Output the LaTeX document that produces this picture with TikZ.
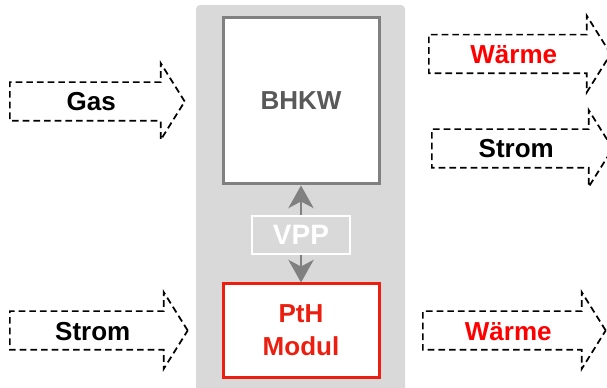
\documentclass[tikz,border=0pt]{standalone}
\usepackage{fontspec}
\setmainfont{Liberation Sans}
\usetikzlibrary{shapes.arrows,arrows.meta}

\definecolor{bggray}{RGB}{217,217,217}
\definecolor{boxgray}{RGB}{128,128,128}
\definecolor{txtgray}{RGB}{89,89,89}
\definecolor{pthred}{RGB}{235,30,15}

\tikzset{
    flowarrow/.style={single arrow, draw=black, line width=1.3pt,
        dash pattern=on 5pt off 3pt, anchor=tail,
        single arrow head extend=14.25pt, single arrow tip angle=116,
        inner xsep=0pt, inner ysep=0pt, text height=21pt, text depth=6.75pt,
        align=center, font=\bfseries\fontsize{19.5}{22}\selectfont},
    unitbox/.style={draw, fill=white, line width=2.25pt, align=center,
        minimum width=117pt, font=\bfseries\fontsize{19.5}{25}\selectfont},
    linkarrow/.style={boxgray, line width=1.5pt,
        -{Stealth[length=17pt, width=19pt, inset=5pt]}}
}

\begin{document}
\begin{tikzpicture}[x=0.75pt, y=-0.75pt]
    \useasboundingbox (0,0) rectangle (607,388);

    % Background of the plant
    \fill[bggray, rounded corners=3pt] (196,5) rectangle (405,394);

    % Define nodes
    \node[unitbox, draw=boxgray, text=txtgray, minimum height=124.5pt] (bhkw) at (301,101) {BHKW};
    \node[draw=white, line width=1.5pt, text=white, minimum width=73.5pt, minimum height=28.5pt,
        inner sep=0pt, font=\bfseries\fontsize{21}{24}\selectfont] (vpp) at (301,235) {VPP};
    \node[unitbox, draw=pthred, text=pthred, minimum height=69.75pt] (pth) at (301,330.5) {PtH\\Modul};

    % Inputs
    \node[flowarrow, text width=120.75pt] (gasin) at (9,101.5) {Gas};
    \node[flowarrow, text width=123pt] (stromin) at (9,330.5) {Strom};

    % Outputs
    \node[flowarrow, text width=126pt, text=red] (waermeout) at (428,54) {Wärme};
    \node[flowarrow, text width=125.25pt] (stromout) at (431,148.5) {Strom};
    \node[flowarrow, text width=126.75pt, text=red] (waermepth) at (422,330.5) {Wärme};

    % Links through the VPP
    \draw[linkarrow] (vpp) -- (bhkw);
    \draw[linkarrow] (vpp) -- (pth);
\end{tikzpicture}
\end{document}
